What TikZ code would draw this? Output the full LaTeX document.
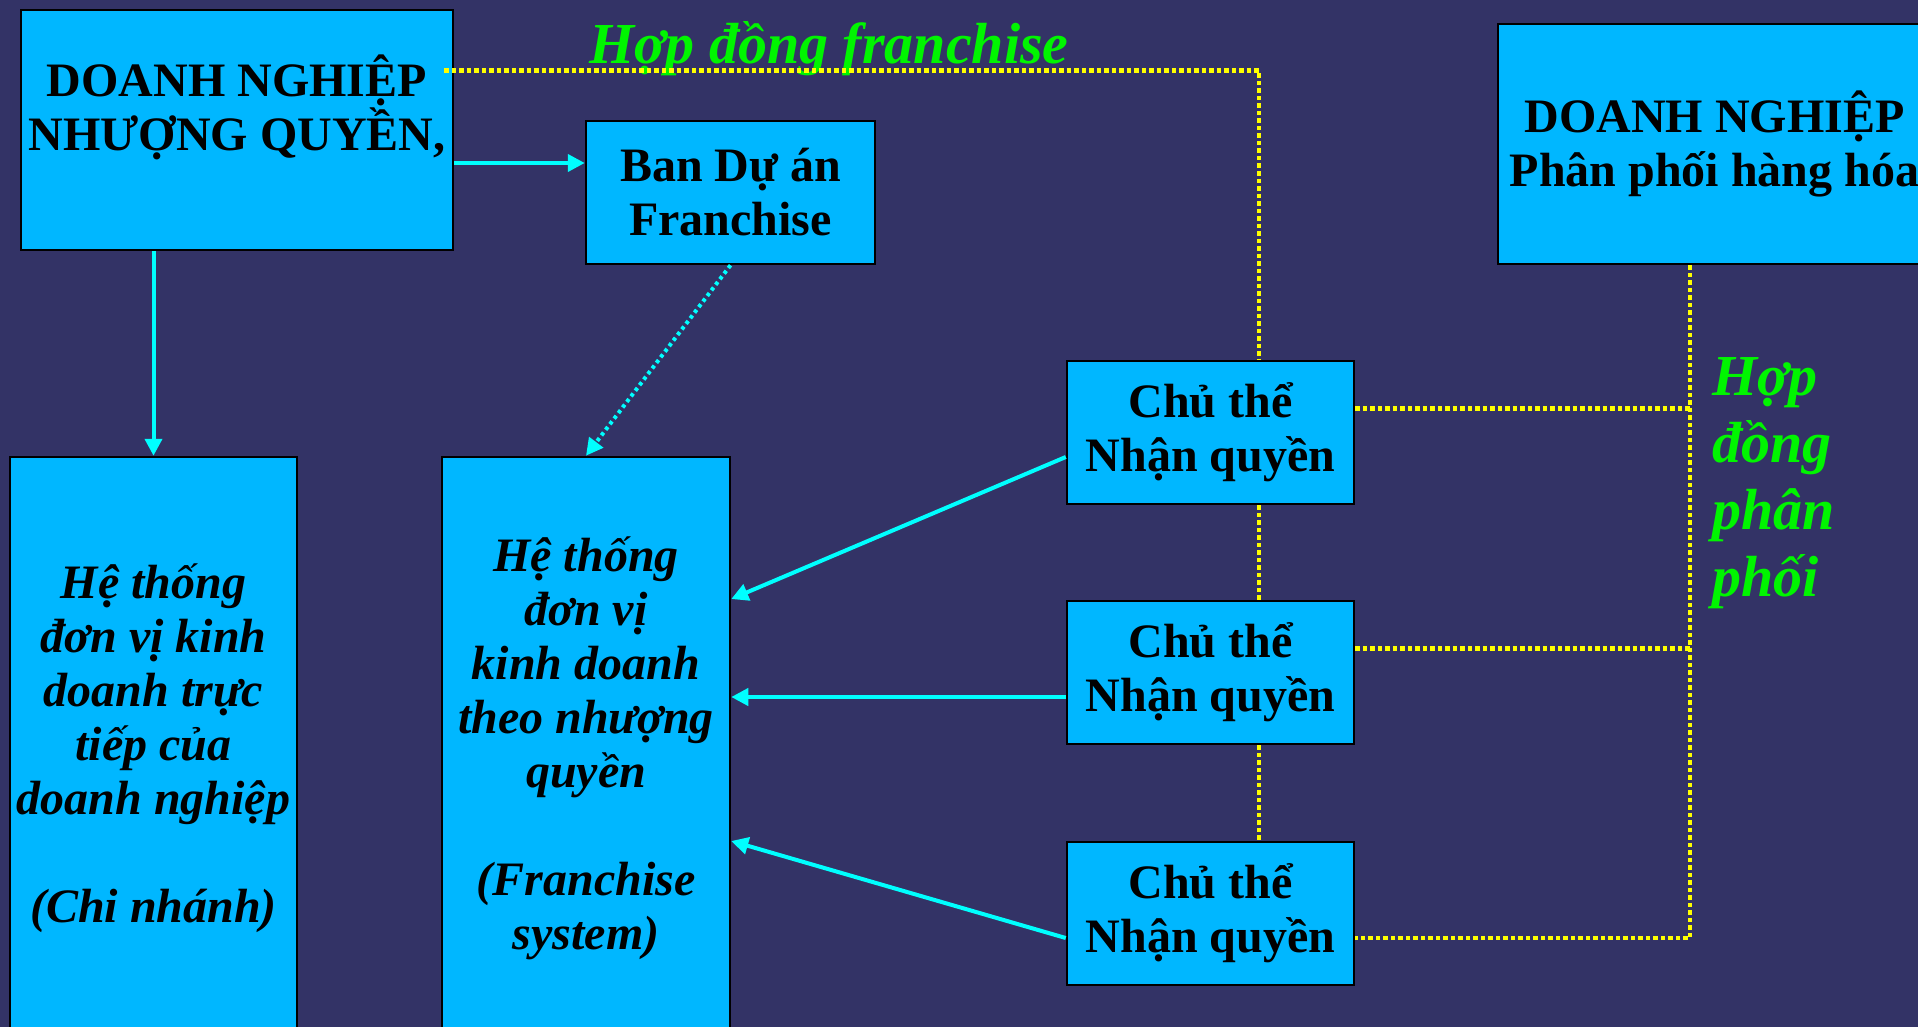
\documentclass[tikz,border=0pt]{standalone}
\usepackage{fontspec}
\setmainfont{Liberation Serif}
\usetikzlibrary{arrows.meta}
\definecolor{slidebg}{RGB}{51,51,102}
\definecolor{boxblue}{RGB}{0,183,255}
\definecolor{linkcyan}{RGB}{0,255,255}
\definecolor{contractyellow}{RGB}{255,255,0}
\definecolor{labelgreen}{RGB}{0,245,0}

\begin{document}
\begin{tikzpicture}[
            x=1pt, y=-1pt,
            box/.style={draw=black, line width=2.5pt, fill=boxblue, inner sep=0pt, align=center,
                font=\fontsize{48}{54}\selectfont\bfseries},
            itbox/.style={box, font=\fontsize{48}{54}\selectfont\bfseries\itshape},
            link/.style={draw=linkcyan, line width=4pt, -{Triangle[length=17pt, width=17pt]}},
            contract/.style={draw=contractyellow, line width=4.5pt, dash pattern=on 4.5pt off 3pt},
            deal/.style={text=labelgreen, inner sep=0pt,
                font=\fontsize{58}{67}\selectfont\bfseries\itshape}
        ]
        \useasboundingbox (0,0) rectangle (1918,1027);
        \clip (0,0) rectangle (1918,1027);
        \fill[slidebg] (0,0) rectangle (1918,1027);

        % top row
        \node[box, minimum width=432pt, minimum height=240pt] (franchisor) at (237,130)
            {DOANH NGHIỆP\\NHƯỢNG QUYỀN,\\\mbox{}};
        \node[box, minimum width=289pt, minimum height=143pt] (project) at (730.5,192.5)
            {Ban Dự án\\Franchise};
        \node[box, minimum width=433pt, minimum height=240pt] (distributor) at (1714.5,144)
            {DOANH NGHIỆP\\Phân phối hàng hóa};

        % the two systems
        \node[itbox, minimum width=287pt, minimum height=582pt] (branches) at (153.5,748)
            {Hệ thống\\đơn vị kinh\\doanh trực\\tiếp của\\doanh nghiệp\\\mbox{}\\(Chi nhánh)};
        \node[itbox, minimum width=288pt, minimum height=582pt] (fsystem) at (586,748)
            {Hệ thống\\đơn vị\\kinh doanh\\theo nhượng\\quyền\\\mbox{}\\(Franchise\\system)};

        % franchisees
        \node[box, minimum width=287pt, minimum height=143pt] (fee1) at (1210.5,432.5) {Chủ thể\\Nhận quyền};
        \node[box, minimum width=287pt, minimum height=143pt] (fee2) at (1210.5,672.5) {Chủ thể\\Nhận quyền};
        \node[box, minimum width=287pt, minimum height=143pt] (fee3) at (1210.5,913.5) {Chủ thể\\Nhận quyền};

        % contract labels
        \node[deal, anchor=base] (franchiselbl) at (829,64) {Hợp đồng franchise};
        \node[deal, anchor=west, align=left] (distlbl) at (1712,483) {Hợp\\đồng\\phân\\phối};

        % franchise contract
        \coordinate (fr) at (1259,72);
        \coordinate (frstart) at ([xshift=-10pt, yshift=-62pt]franchisor.north east);
        \draw[contract] (frstart) -- (frstart -| fr) -- (fee1.north -| fr);
        \draw[contract] (fee1.south -| fr) -- (fee2.north -| fr);
        \draw[contract] (fee2.south -| fr) -- (fee3.north -| fr);

        % distribution contract
        \coordinate (pp) at (1690,938);
        \coordinate (d1) at ([yshift=24pt]fee1.east);
        \coordinate (d2) at ([yshift=24pt]fee2.east);
        \coordinate (d3) at ([yshift=-24.5pt]fee3.east);
        \draw[contract] (distributor.south -| pp) -- (d3 -| pp) -- (d3);
        \draw[contract] (d1) -- (d1 -| pp);
        \draw[contract] (d2) -- (d2 -| pp);

        % arrows
        \coordinate (ab) at ([yshift=-33pt]franchisor.east);
        \draw[link] (ab) -- (ab -| project.west);
        \draw[link] (franchisor.south -| branches.north) -- (branches.north);
        \draw[link, dash pattern=on 3.5pt off 3.5pt] (project.south) -- (fsystem.north);
        \draw[link] ([yshift=-24.5pt]fee1.west) -- ([yshift=149pt]fsystem.east);
        \draw[link] ([yshift=-24.5pt]fee2.west) -- ([yshift=-24.5pt]fee2.west -| fsystem.east);
        \draw[link] ([yshift=-24.5pt]fee3.west) -- ([yshift=-93pt]fsystem.east);
\end{tikzpicture}
\end{document}
